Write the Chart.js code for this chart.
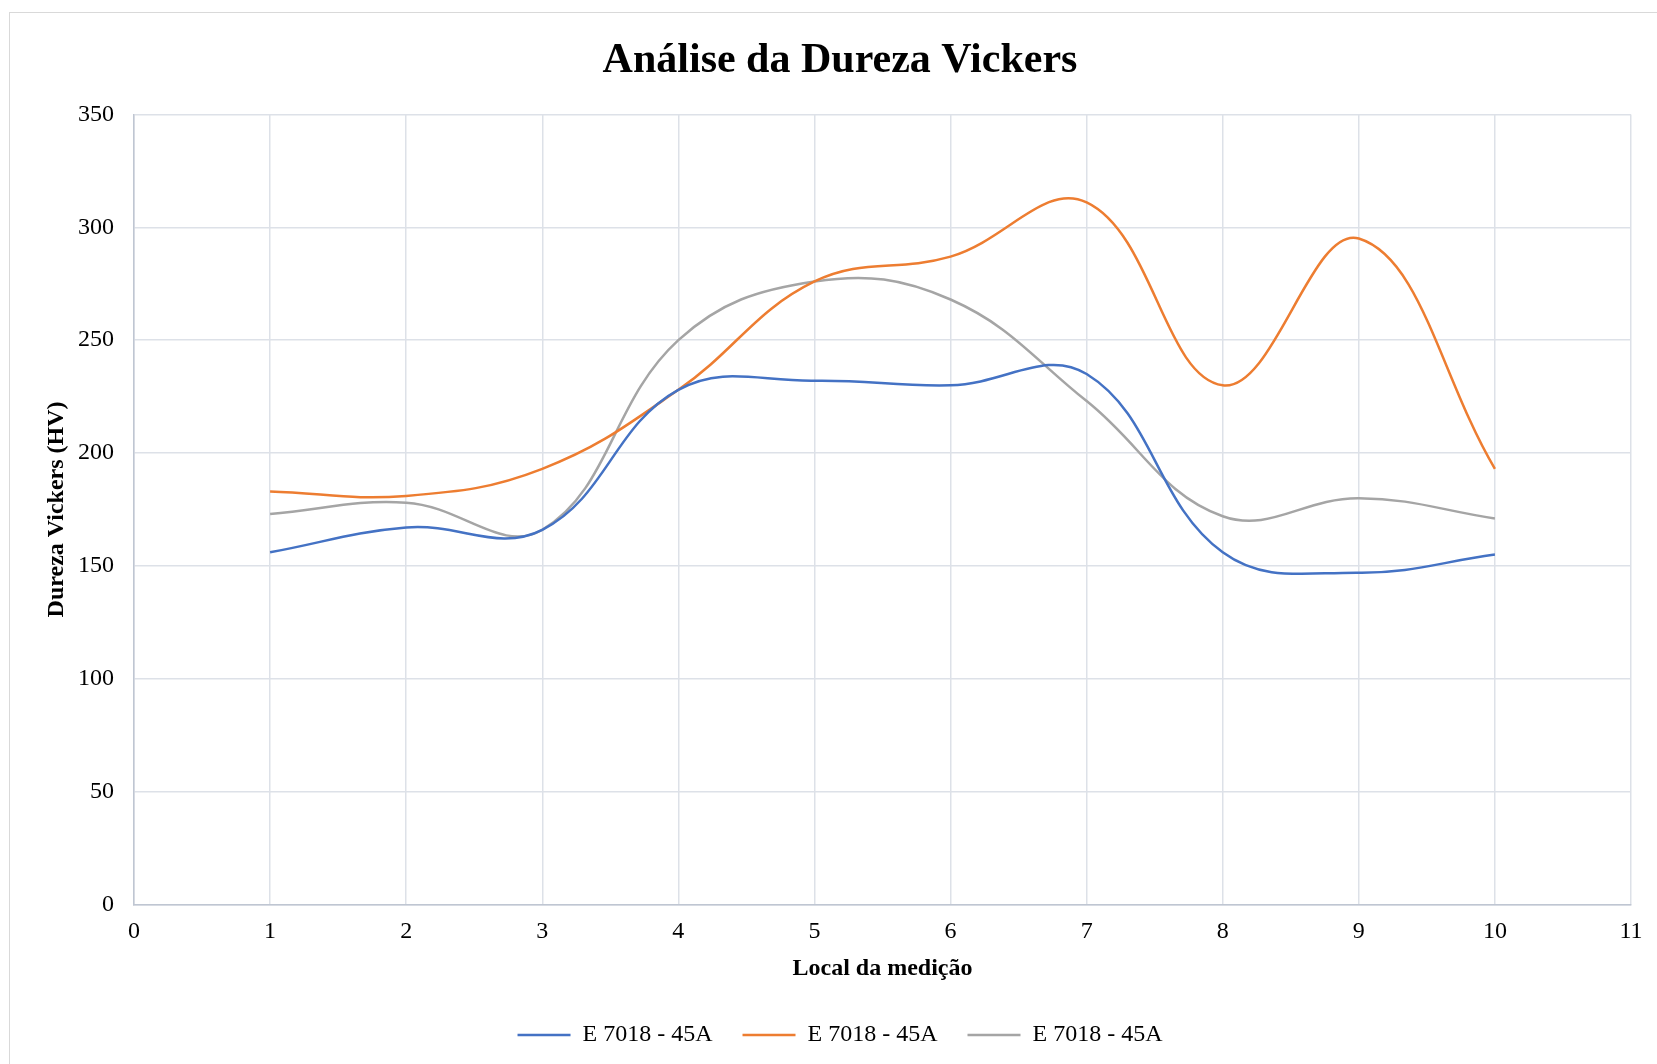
<!DOCTYPE html>
<html>
<head>
<meta charset="utf-8">
<script src="https://cdn.jsdelivr.net/npm/chart.js@4/dist/chart.umd.min.js"></script>
<style>
  html, body { margin: 0; padding: 0; background: #fff; }
  #frame { position: absolute; left: 9px; top: 12px; width: 1700px; height: 1100px; border: 1px solid #d9d9d9; box-sizing: border-box; }
  #wrap { position: absolute; left: 0; top: 0; width: 1657px; height: 1064px; }
</style>
</head>
<body>
<div id="frame"></div>
<div id="wrap"><canvas id="c" width="1657" height="1064"></canvas></div>
<script>
const positions = [1, 2, 3, 4, 5, 6, 7, 8, 9, 10];
const seriesLabels = ['E 7018 - 45A', 'E 7018 - 45A', 'E 7018 - 45A'];
const blueValues   = [156, 167, 166, 228, 232, 230, 235, 156, 147, 155];
const orangeValues = [183, 181, 193, 228, 276, 287, 311, 230, 295, 193];
const grayValues   = [173, 178, 166, 250, 276, 268, 223, 172, 180, 171];
const chartTitle = 'Análise da Dureza Vickers';
const xTitle = 'Local da medição';
const yTitle = 'Dureza Vickers (HV)';

const colors = ['#4472C4', '#ED7D31', '#A5A5A5'];
const toPoints = vals => positions.map((p, i) => ({ x: p, y: vals[i] }));
const FONT = '"Liberation Serif", "Times New Roman", serif';

new Chart(document.getElementById('c'), {
  type: 'scatter',
  data: {
    datasets: [blueValues, orangeValues, grayValues].map((vals, i) => ({
      label: seriesLabels[i],
      data: toPoints(vals),
      showLine: true,
      borderColor: colors[i],
      backgroundColor: colors[i],
      borderWidth: 2.5,
      pointRadius: 0,
      pointHoverRadius: 0,
      tension: 0.4,
      cubicInterpolationMode: 'default'
    }))
  },
  options: {
    responsive: false,
    animation: false,
    layout: { padding: { left: 49, right: 26, top: 0, bottom: 7 } },
    plugins: {
      tooltip: { enabled: false },
      title: {
        display: true,
        text: chartTitle,
        color: '#000',
        font: { family: FONT, size: 42, weight: 'bold' },
        padding: { top: 36, bottom: 28 }
      },
      legend: {
        position: 'bottom',
        labels: {
          color: '#000',
          font: { family: FONT, size: 24 },
          usePointStyle: true,
          pointStyle: 'line',
          pointStyleWidth: 53,
          boxHeight: 24,
          padding: 30
        }
      }
    },
    scales: {
      x: {
        type: 'linear',
        min: 0, max: 11,
        ticks: { stepSize: 1, color: '#000', font: { family: FONT, size: 24 }, padding: 13 },
        grid: { color: '#dde1e8', lineWidth: 1.5, drawTicks: false },
        border: { color: '#bfc6d2', width: 1.5 },
        title: { display: true, text: xTitle, color: '#000', font: { family: FONT, size: 24, weight: 'bold' }, padding: { top: 4, bottom: 10 } },
        afterFit: s => { s.height = 88.5; }
      },
      y: {
        min: 0, max: 350,
        ticks: { stepSize: 50, color: '#000', font: { family: FONT, size: 24 }, padding: 20 },
        grid: { color: '#dde1e8', lineWidth: 1.5, drawTicks: false },
        border: { color: '#bfc6d2', width: 1.5 },
        title: { display: true, text: yTitle, color: '#000', font: { family: FONT, size: 24, weight: 'bold' }, padding: { top: -7, bottom: 0 } },
        afterFit: s => { s.width = 85; }
      }
    }
  }
});
</script>
</body>
</html>
